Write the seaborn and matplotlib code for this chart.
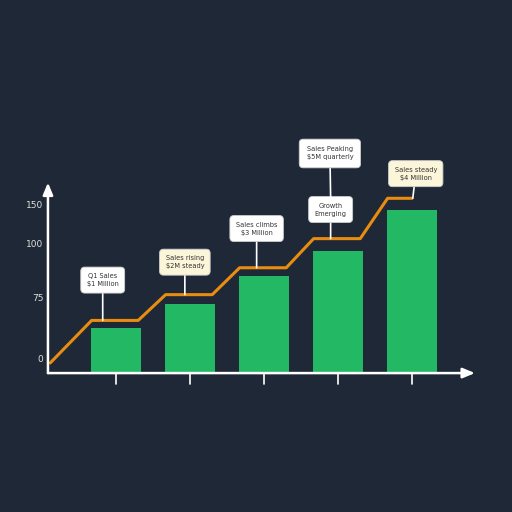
import matplotlib
matplotlib.use("Agg")
import matplotlib.pyplot as plt
import pandas as pd
import seaborn as sns

# Chart data
categories = ["Q1", "Q2", "Q3", "Q4", "Q5"]
bar_values = [40, 62, 87, 109, 146]
trend_start = 9
trend_levels = [47, 70, 94, 120, 156]
ytick_values = [12, 67, 115, 150]
ytick_labels = ["0", "75", "100", "150"]
notes = [
    "Q1 Sales\n$1 Million",
    "Sales rising\n$2M steady",
    "Sales climbs\n$3 Million",
    "Growth\nEmerging",
    "Sales steady\n$4 Million",
]
top_note = "Sales Peaking\n$5M quarterly"

BG = "#1f2836"
GREEN = "#22b864"
ORANGE = "#e88c12"
WHITE_BOX = "#ffffff"
CREAM_BOX = "#fbf5d9"

sns.set_theme(style="white")
plt.rcParams["font.family"] = ["DejaVu Sans"]

fig = plt.figure(figsize=(5.12, 5.12), dpi=100, facecolor=BG)
ax = fig.add_axes([0, 0, 1, 1])
ax.set_facecolor(BG)

df = pd.DataFrame({"quarter": categories, "value": bar_values})
sns.barplot(data=df, x="quarter", y="value", color=GREEN, saturation=1,
            width=0.67, linewidth=0, ax=ax, zorder=2)

# step-like trend line hugging the bar tops
line_x = [-0.89]
line_y = [trend_start]
for i, level in enumerate(trend_levels):
    line_x += [i - 0.33, i + 0.3 if i < len(trend_levels) - 1 else i]
    line_y += [level, level]
ax.plot(line_x, line_y, color=ORANGE, lw=2.2, zorder=3, solid_joinstyle="round")

ax.set_xlim(-1.568, 5.351)
ax.set_ylim(-124, 333)
ax.axis("off")

# axes with arrows
arrow_kw = dict(arrowstyle="-|>,head_width=0.25,head_length=0.6", color="white",
                lw=1.8, shrinkA=0, shrinkB=0)
ax.annotate("", xy=(-0.92, 170), xytext=(-0.92, 0), arrowprops=arrow_kw, zorder=4)
ax.annotate("", xy=(4.85, 0), xytext=(-0.92, 0), arrowprops=arrow_kw, zorder=4)

# x ticks
for i in range(len(categories)):
    ax.plot([i, i], [0, -10], color="white", lw=1.2, zorder=4)

# y tick labels
for val, lab in zip(ytick_values, ytick_labels):
    ax.text(-0.98, val, lab, ha="right", va="center", color="#e0e0e0", fontsize=6.5)

# annotation boxes
note_pos = [(-0.18, 83), (0.93, 99), (1.9, 129), (2.9, 146), (4.05, 178)]
note_target = [(-0.18, trend_levels[0]), (0.93, trend_levels[1]), (1.9, trend_levels[2]),
               (2.9, trend_levels[3]), (4.01, trend_levels[4])]
note_face = [WHITE_BOX, CREAM_BOX, WHITE_BOX, WHITE_BOX, CREAM_BOX]
for txt, pos, tgt, face in zip(notes, note_pos, note_target, note_face):
    ax.annotate(txt, xy=tgt, xytext=pos, ha="center", va="center", fontsize=4.8,
                color="#333333", linespacing=1.4, zorder=5,
                bbox=dict(boxstyle="round,pad=0.9,rounding_size=0.6", fc=face,
                          ec="#cccccc", lw=0.6),
                arrowprops=dict(arrowstyle="-", color="white", lw=1.2,
                                shrinkA=0, shrinkB=0))

ax.annotate(top_note, xy=(2.9, 157), xytext=(2.89, 196), ha="center", va="center",
            fontsize=4.8, color="#333333", linespacing=1.4, zorder=5,
            bbox=dict(boxstyle="round,pad=1.1,rounding_size=0.6", fc=WHITE_BOX,
                      ec="#cccccc", lw=0.6),
            arrowprops=dict(arrowstyle="-", color="white", lw=1.2, shrinkA=0, shrinkB=0))

fig.savefig("out.png", dpi=100, facecolor=BG)
